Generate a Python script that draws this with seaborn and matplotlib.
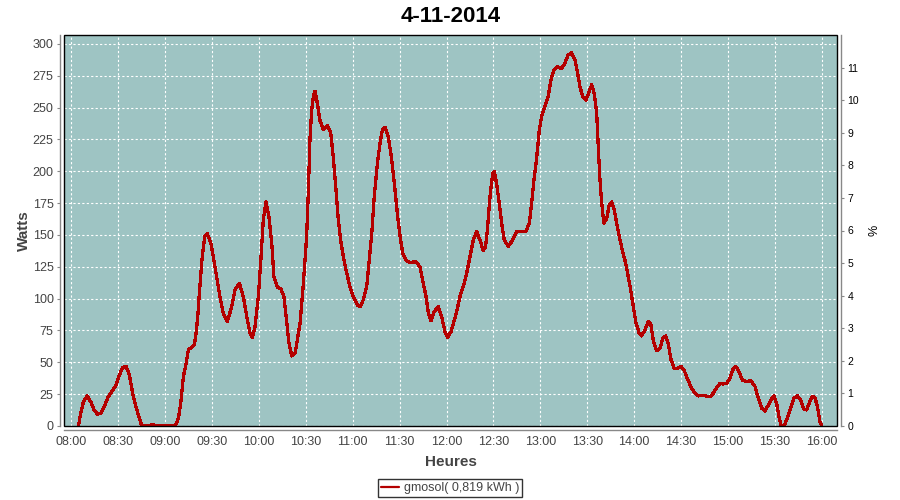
import matplotlib
matplotlib.use("Agg")
import matplotlib.pyplot as plt
import matplotlib.dates as mdates
from matplotlib.patches import Rectangle
import seaborn as sns
import pandas as pd

# ---- data ----
title = "4-11-2014"
series_label = "gmosol( 0,819 kWh )"
x_label = "Heures"
y_label = "Watts"
y2_label = "%"
day = "2014-11-04 08:00"

minutes_after_8 = [
    4.7, 6.2, 7.9, 10.4, 12.6, 14.7, 16.8, 19.0, 21.1, 23.8, 26.7, 28.8, 30.9, 33.0, 35.2,
    37.3, 39.4, 41.5, 43.7, 45.2, 49.4, 51.6, 54.8, 56.9, 66.5, 68.6, 70.1, 71.8, 73.5,
    75.0, 77.1, 78.8, 79.9, 81.0, 82.0, 83.5, 84.6, 85.6, 87.1, 89.3, 90.9, 93.1, 95.2,
    97.3, 99.9, 102.7, 104.8, 107.6, 110.1, 112.3, 114.4, 115.9, 117.6, 119.7, 121.2,
    122.9, 124.6, 126.5, 128.3, 129.7, 131.8, 134.0, 136.1, 137.9, 139.3, 141.1, 143.2,
    144.6, 146.4, 148.5, 150.6, 151.7, 152.7, 153.8, 154.9, 155.9, 157.4, 159.1, 161.2,
    163.8, 166.0, 167.6, 169.4, 170.8, 172.6, 174.5, 176.2, 178.3, 180.4, 183.0, 184.7,
    186.8, 189.0, 190.4, 192.2, 193.8, 195.8, 197.5, 199.0, 200.7, 202.8, 205.0, 207.1,
    208.8, 210.3, 212.0, 214.1, 216.7, 220.5, 223.0, 225.2, 226.9, 228.4, 230.1, 232.2,
    234.7, 236.9, 239.0, 240.7, 242.9, 245.0, 246.7, 248.6, 250.7, 252.9, 255.0, 257.1,
    259.3, 261.4, 263.5, 265.0, 266.1, 267.8, 269.5, 270.5, 272.0, 273.7, 275.3, 276.9,
    279.5, 282.3, 284.8, 288.0, 290.8, 292.9, 294.4, 295.9, 297.2, 298.3, 299.3, 300.8,
    302.9, 305.0, 306.8, 308.7, 310.8, 313.6, 315.7, 317.8, 320.0, 322.1, 323.8, 325.3,
    327.0, 329.1, 331.2, 332.8, 334.4, 336.0, 337.0, 338.1, 339.2, 340.6, 342.4, 344.0,
    345.6, 347.2, 348.8, 350.4, 352.4, 354.5, 356.2, 357.7, 359.4, 361.1, 363.2, 364.7,
    366.8, 369.0, 370.5, 372.1, 374.3, 376.5, 378.2, 380.1, 381.7, 383.5, 385.6, 387.7,
    389.7, 391.8, 393.9, 396.1, 398.8, 400.9, 404.1, 408.4, 410.5, 412.7, 414.8, 416.9,
    419.1, 421.2, 422.9, 424.8, 427.0, 429.1, 431.9, 434.6, 437.2, 439.3, 441.4, 443.5,
    445.7, 447.8, 449.3, 451.0, 452.5, 453.8, 455.7, 457.8, 460.0, 462.1, 464.2, 466.4,
    468.5, 470.2, 471.9, 473.8, 475.5, 477.2, 478.7, 479.8,
]
watts = [
    0, 10, 19, 23.6, 19, 12.6, 9.4, 10, 15, 23, 28, 32, 40, 46, 47,
    40, 25.7, 15, 6, 0, 0, 1, 0.5, 0, 0, 6, 17.8, 38.7, 49,
    59.7, 62, 63.6, 72.8, 86, 104, 128, 141, 149, 151, 144, 133, 117, 101.6,
    88.6, 82, 93.7, 107, 112, 101.6, 86, 73, 69.6, 78, 101.6, 128,
    162, 176, 164, 143.5, 117, 109, 108, 101.6, 80.7, 65, 55, 57,
    67.6, 80.7, 112, 149, 185, 224.7, 248, 258.7, 263, 253.5, 240, 232.5,
    236, 230, 211.5, 185, 162, 143.5, 130, 120, 109.4, 101.6, 95, 93.7,
    99, 109.4, 128, 151, 180, 206, 222, 232.5, 234.6, 227, 209, 185,
    164, 149, 135.6, 130, 128.5, 129, 125, 112, 101.6, 88.5, 82.7, 89.8,
    93.7, 86, 74, 69.6, 74, 83, 91, 101.6, 109.4, 120, 133, 146,
    152.6, 146, 137.7, 141, 154, 180, 198.5, 199.8, 190.6, 175, 159, 146,
    141, 146, 152.6, 153, 153, 159, 175, 193, 206, 219, 232.5, 243,
    251, 258.7, 272, 279.7, 282, 280.4, 285, 291.4, 293, 287.5, 277, 266.5,
    258.7, 256, 262.6, 268, 261, 245.6, 219, 193, 175, 159, 163, 173.6,
    176, 169.7, 159, 149, 138, 128, 117, 107, 93.7, 80.7, 72.8, 70.7,
    75.4, 82, 80.7, 67.6, 59, 61, 69, 70.7, 65, 52, 45, 45,
    47, 44, 37.5, 31, 25.7, 23.6, 24, 23, 25.7, 30, 33.5, 33,
    33.5, 37.5, 44, 47, 42.7, 36, 35, 35.6, 31, 21.7, 14, 11.8,
    16.5, 21.7, 23.6, 17.8, 7.3, 0.8, 0, 6, 14, 21.7, 23.8, 20.4,
    13, 12.6, 18.3, 23, 22.5, 14.4, 3.4, 0,
]
left_ticks = [0, 25, 50, 75, 100, 125, 150, 175, 200, 225, 250, 275, 300]
right_ticks = list(range(0, 12))

# ---- styling ----
bg_color = "#9EC4C3"
line_color = "#B40000"
text_color = "#444444"
axis_gray = "#888888"

sns.set_style("white")
plt.rcParams["font.family"] = ["Liberation Sans", "DejaVu Sans"]

start = pd.Timestamp(day)
df = pd.DataFrame({
    "time": start + pd.to_timedelta(minutes_after_8, unit="min"),
    "watts": watts,
})

fig = plt.figure(figsize=(9, 5), dpi=100)
ax = fig.add_axes([64 / 900, 1 - 426 / 500, (837 - 64) / 900, (426 - 35) / 500])
ax.set_facecolor(bg_color)

sns.lineplot(data=df, x="time", y="watts", ax=ax, color=line_color,
             linewidth=1.6, label=series_label, antialiased=False)

ax.set_xlim(start - pd.Timedelta(minutes=4.5), start + pd.Timedelta(minutes=489.6))
ax.set_ylim(0, 307)
ax.set_yticks(left_ticks)
ax.xaxis.set_major_locator(mdates.MinuteLocator(byminute=[0, 30]))
ax.xaxis.set_major_formatter(mdates.DateFormatter("%H:%M"))

ax.grid(True, color="white", linestyle=(0, (2, 2)), linewidth=0.8)
ax.set_axisbelow(True)

for side in ["top", "right"]:
    ax.spines[side].set_visible(False)
for side in ["left", "bottom"]:
    ax.spines[side].set_position(("outward", 3))
    ax.spines[side].set_color(axis_gray)
    ax.spines[side].set_linewidth(1.0)

ax.tick_params(axis="both", colors=axis_gray, labelcolor=text_color,
               labelsize=9, length=2.5, width=0.8, direction="out", pad=2)
ax.set_xlabel(x_label, fontsize=11, fontweight="bold", color=text_color, labelpad=5)
ax.set_ylabel(y_label, fontsize=11, fontweight="bold", color=text_color, labelpad=1)

# plot outline
ax.add_patch(Rectangle((0, 0), 1, 1, transform=ax.transAxes, fill=False,
                       edgecolor="black", linewidth=1.0, zorder=5, clip_on=False))

# right axis (%)
ax2 = ax.twinx()
ax2.set_ylim(0, 12)
ax2.set_yticks(right_ticks)
ax2.grid(False)
for side in ["top", "left", "bottom"]:
    ax2.spines[side].set_visible(False)
ax2.spines["right"].set_position(("outward", 3))
ax2.spines["right"].set_color(axis_gray)
ax2.spines["right"].set_linewidth(1.0)
ax2.tick_params(axis="y", colors=axis_gray, labelcolor="black", labelsize=7.5,
                length=2.5, width=0.8, direction="out", pad=2)
ax2.set_ylabel(y2_label, fontsize=9, color="black", labelpad=7)

ax.set_title(title, fontsize=16, fontweight="bold", color="black", pad=9)

handles, labels = ax.get_legend_handles_labels()
if ax.get_legend() is not None:
    ax.get_legend().remove()
leg = fig.legend(handles, labels, loc="center", bbox_to_anchor=(450 / 900, 1 - 488 / 500),
                 frameon=True, fancybox=False, edgecolor="black", fontsize=9,
                 handlelength=1.4, handletextpad=0.4, borderpad=0.25, borderaxespad=0)
leg.get_frame().set_linewidth(1.0)
for t in leg.get_texts():
    t.set_color(text_color)

fig.savefig("out.png", dpi=100, facecolor="white")
